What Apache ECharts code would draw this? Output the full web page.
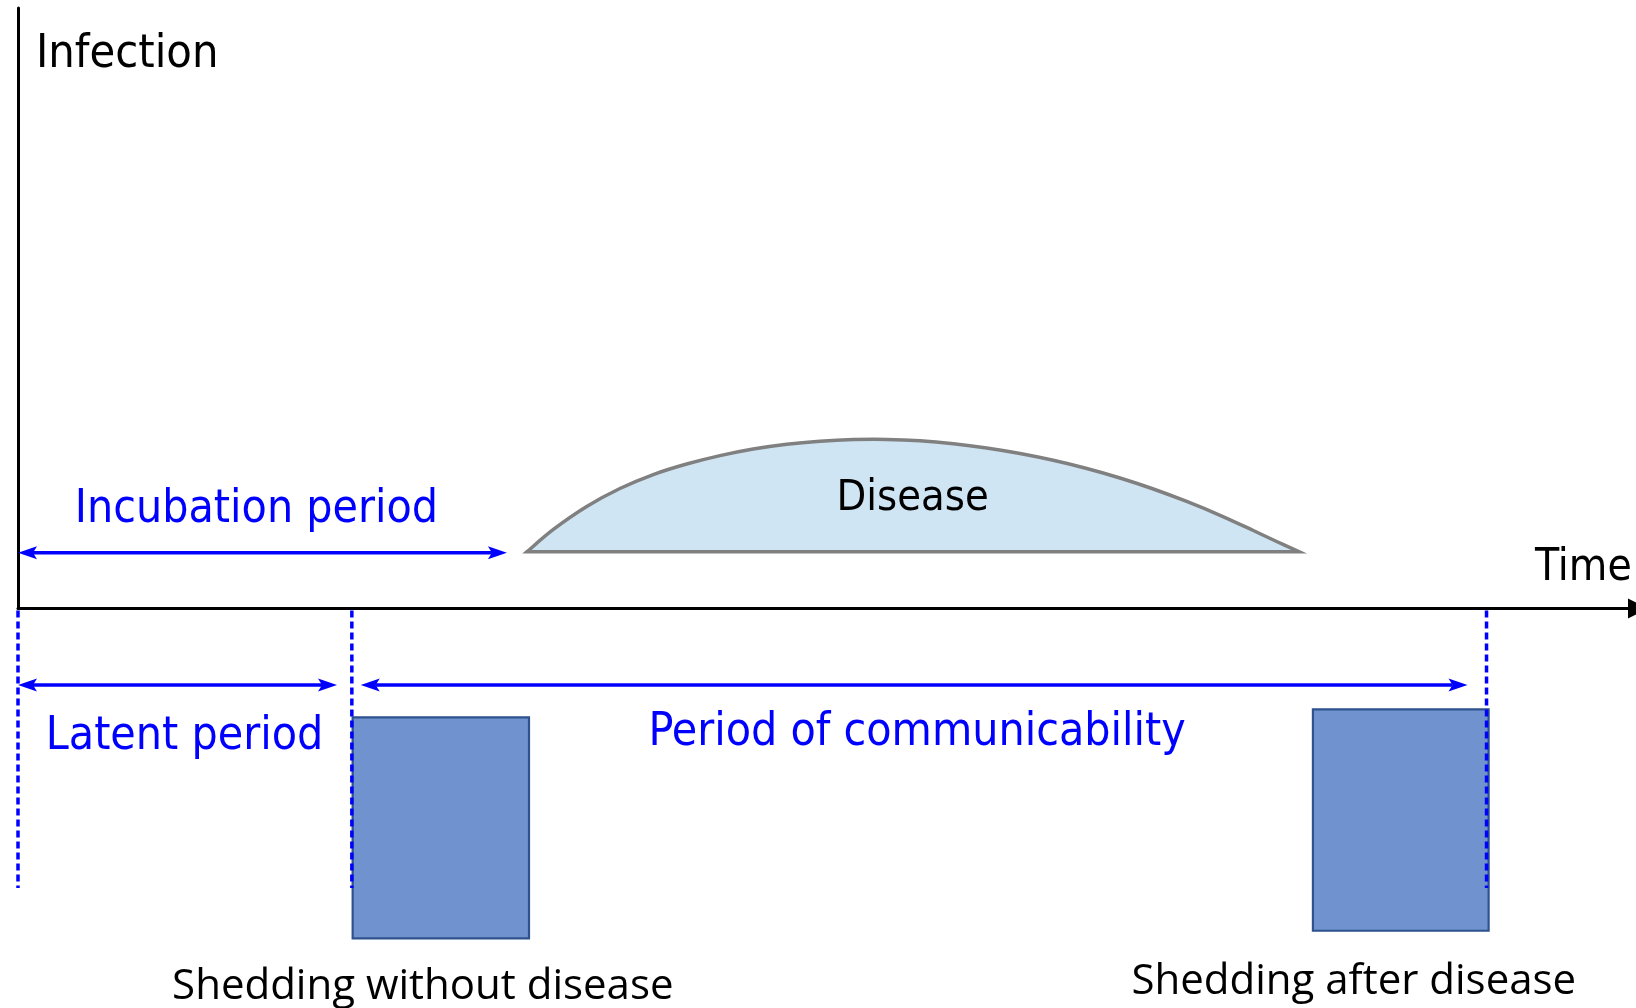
<!DOCTYPE html>
<html>
<head>
<meta charset="utf-8">
<script src="https://cdn.jsdelivr.net/npm/echarts@6/dist/echarts.min.js"></script>
<style>
html,body{margin:0;padding:0;background:#ffffff;}
#chart{width:1636px;height:1008px;}
</style>
</head>
<body>
<div id="chart"></div>
<script>
// ---------------- data (time units on x, infection level on y) ----------------
const axisNameX = 'Time';
const axisNameY = 'Infection';

const periodNames = ['Incubation period', 'Latent period', 'Period of communicability'];
const periodStart = [0, 0, 21.26];
const periodEnd = [30.33, 19.79, 89.92];
const periodLevel = [9.29, -12.74, -12.74];

const markerTimes = [0, 20.71, 91.1];
const markerDepth = -46.54;

const sheddingNames = ['Shedding without disease', 'Shedding after disease'];
const sheddingStart = [20.76, 80.33];
const sheddingEnd = [31.70, 91.23];
const sheddingTop = [-18.12, -16.79];
const sheddingBottom = [-54.92, -53.66];

const diseaseName = 'Disease';
const diseaseX = [31.58, 33.21, 35.28, 37.34, 39.41, 41.48, 43.55, 45.61, 47.69, 49.75, 51.82, 53.89, 55.96, 58.02, 60.09, 62.16, 64.22, 66.30, 68.36, 70.43, 72.50, 74.57, 76.63, 78.08, 79.47];
const diseaseY = [9.46, 13.16, 16.99, 19.98, 22.31, 24.06, 25.46, 26.56, 27.36, 27.86, 28.13, 28.16, 27.93, 27.44, 26.73, 25.81, 24.68, 23.31, 21.73, 19.90, 17.82, 15.52, 12.99, 11.16, 9.46];

// ---------------- layout / style (not data) ----------------
const BLUE = '#0000ff';
const FONT_A = "'DejaVu Sans Condensed', 'DejaVu Sans', sans-serif";
const FONT_B = "'Open Sans', sans-serif";
const LAYOUT = {
  periodLabel: [{dx: -6, dy: -43, size: 46}, {dx: 7, dy: 52, size: 46}, {dx: 3, dy: 48, size: 46}],
  sheddingLabel: [{dx: -18, dy: 49}, {dx: -47, dy: 51}],
  diseaseLabelAt: [55.5, 18.2]
};

function arrowHead(tipX, y, dir) {
  const L = 19, H = 6.5, N = 4;
  return [[tipX, y], [tipX + dir * L, y - H], [tipX + dir * (L - N), y], [tipX + dir * L, y + H]];
}

function renderPeriod(params, api) {
  const i = params.dataIndex;
  const a = api.coord([api.value(0), api.value(2)]);
  const b = api.coord([api.value(1), api.value(2)]);
  const y = a[1];
  const lay = LAYOUT.periodLabel[i];
  return {
    type: 'group',
    children: [
      {type: 'line', shape: {x1: a[0] + 15, y1: y, x2: b[0] - 15, y2: y}, style: {stroke: BLUE, lineWidth: 3.5}},
      {type: 'polygon', shape: {points: arrowHead(a[0], y, 1)}, style: {fill: BLUE}},
      {type: 'polygon', shape: {points: arrowHead(b[0], y, -1)}, style: {fill: BLUE}},
      {type: 'text', style: {text: periodNames[i], x: (a[0] + b[0]) / 2 + lay.dx, y: y + lay.dy,
        fill: BLUE, fontSize: lay.size, fontFamily: FONT_A, align: 'center', verticalAlign: 'middle'}}
    ]
  };
}

function renderMarker(params, api) {
  const t = api.value(0);
  const p0 = api.coord([t, 0]);
  const p1 = api.coord([t, markerDepth]);
  return {type: 'line', shape: {x1: p0[0], y1: p0[1] + 2, x2: p1[0], y2: p1[1]},
    style: {stroke: BLUE, lineWidth: 3.5, lineDash: [7, 4]}};
}

function renderShedding(params, api) {
  const i = params.dataIndex;
  const p0 = api.coord([api.value(0), api.value(2)]);
  const p1 = api.coord([api.value(1), api.value(3)]);
  const lay = LAYOUT.sheddingLabel[i];
  return {
    type: 'group',
    children: [
      {type: 'rect', shape: {x: p0[0], y: p0[1], width: p1[0] - p0[0], height: p1[1] - p0[1]},
        style: {fill: '#7092ce', stroke: '#2f528f', lineWidth: 2.2}},
      {type: 'text', style: {text: sheddingNames[i], x: (p0[0] + p1[0]) / 2 + lay.dx, y: p1[1] + lay.dy,
        fill: '#000000', fontSize: 42, fontFamily: FONT_B, align: 'center', verticalAlign: 'middle'}}
    ]
  };
}

// smooth outline through the read points (Catmull-Rom drawn as cubic Bezier segments)
function smoothPath(pts) {
  let d = 'M' + pts[0][0] + ' ' + pts[0][1];
  for (let k = 0; k < pts.length - 1; k++) {
    const p0 = pts[Math.max(k - 1, 0)], p1 = pts[k], p2 = pts[k + 1], p3 = pts[Math.min(k + 2, pts.length - 1)];
    const c1 = [p1[0] + (p2[0] - p0[0]) / 6, p1[1] + (p2[1] - p0[1]) / 6];
    const c2 = [p2[0] - (p3[0] - p1[0]) / 6, p2[1] - (p3[1] - p1[1]) / 6];
    d += ' C' + c1[0] + ' ' + c1[1] + ' ' + c2[0] + ' ' + c2[1] + ' ' + p2[0] + ' ' + p2[1];
  }
  return d + ' Z';
}

function renderDisease(params, api) {
  const pts = diseaseX.map((x, k) => api.coord([x, diseaseY[k]]));
  const lp = api.coord(LAYOUT.diseaseLabelAt);
  return {
    type: 'group',
    children: [
      {type: 'path', shape: {pathData: smoothPath(pts)}, style: {fill: '#cfe5f3', stroke: '#808080', lineWidth: 3.5, lineJoin: 'miter'}},
      {type: 'text', style: {text: diseaseName, x: lp[0], y: lp[1], fill: '#000000', fontSize: 43,
        fontFamily: FONT_A, align: 'center', verticalAlign: 'middle'}}
    ]
  };
}

const chart = echarts.init(document.getElementById('chart'), null, {renderer: 'canvas'});
chart.setOption({
  animation: false,
  backgroundColor: '#ffffff',
  grid: {left: 18, right: 6, top: 8, bottom: 399.5, containLabel: false},
  xAxis: {
    type: 'value', min: 0, max: 100,
    name: axisNameX, nameLocation: 'end', nameGap: -95,
    nameTextStyle: {fontSize: 44, fontFamily: FONT_A, color: '#000', align: 'left', verticalAlign: 'bottom', padding: [0, 0, 18, 0]},
    axisLine: {show: true, lineStyle: {color: '#000', width: 3}, symbol: ['none', 'triangle'], symbolSize: [20, 20], symbolOffset: [0, 8]},
    axisTick: {show: false}, axisLabel: {show: false}, splitLine: {show: false}
  },
  yAxis: {
    type: 'value', min: 0, max: 100,
    name: axisNameY, nameLocation: 'end', nameGap: -23,
    nameTextStyle: {fontSize: 46.5, fontFamily: FONT_A, color: '#000', align: 'left', verticalAlign: 'top', padding: [0, 0, 0, 18]},
    axisLine: {show: true, lineStyle: {color: '#000', width: 3}},
    axisTick: {show: false}, axisLabel: {show: false}, splitLine: {show: false}
  },
  series: [
    {type: 'custom', name: 'Disease', clip: false, z: 2, renderItem: renderDisease, data: [[diseaseX[0], diseaseY[0]]]},
    {type: 'custom', name: 'Shedding', clip: false, z: 3, renderItem: renderShedding,
      data: sheddingNames.map((n, i) => [sheddingStart[i], sheddingEnd[i], sheddingTop[i], sheddingBottom[i]])},
    {type: 'custom', name: 'Markers', clip: false, z: 4, renderItem: renderMarker, data: markerTimes.map(t => [t])},
    {type: 'custom', name: 'Periods', clip: false, z: 5, renderItem: renderPeriod,
      data: periodNames.map((n, i) => [periodStart[i], periodEnd[i], periodLevel[i]])}
  ]
});
</script>
</body>
</html>
